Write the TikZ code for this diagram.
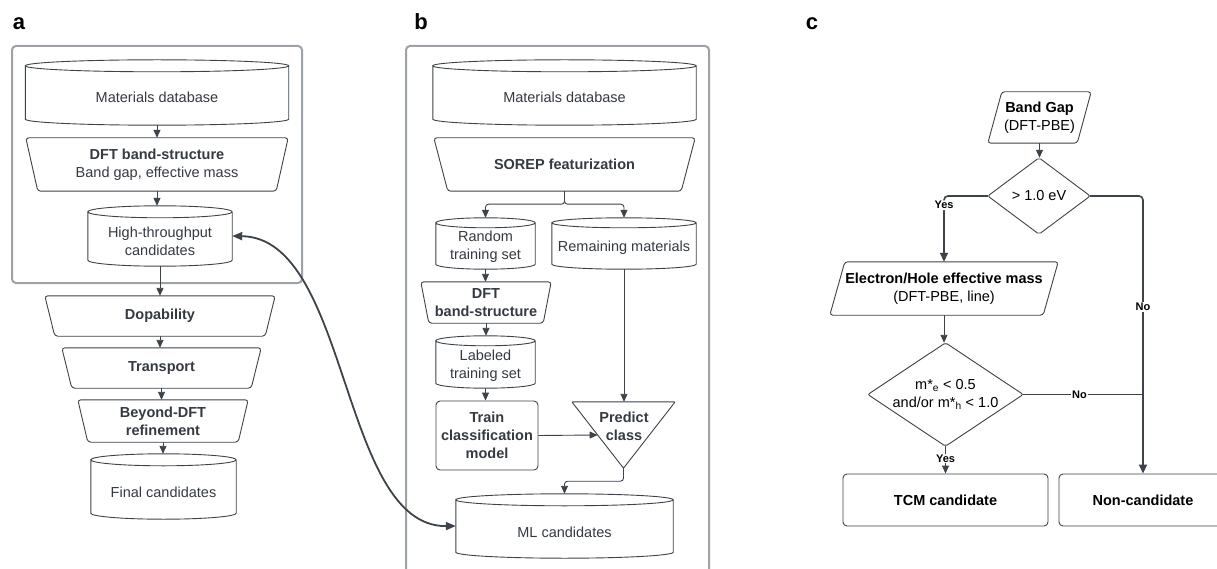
\documentclass[tikz,border=0pt]{standalone}
\usepackage{fontspec}
\setmainfont{Liberation Sans}
\usetikzlibrary{arrows.meta,calc}
\definecolor{ln}{HTML}{3D434B}
\definecolor{tx}{HTML}{353A42}
\definecolor{frm}{HTML}{9DA2A8}
\newcommand\fs{\fontsize{14.5}{17.8}\selectfont}
\newcommand\mycyl[2]{\draw[shp] let \p1=(#1.north west), \p2=(#1.south east) in (\x1,\y1-#2pt) -- (\x1,\y2+#2pt) arc[start angle=180,end angle=360,x radius={(\x2-\x1)/2},y radius=#2pt] -- (\x2,\y1-#2pt) arc[start angle=0,end angle=180,x radius={(\x2-\x1)/2},y radius=#2pt] arc[start angle=180,end angle=360,x radius={(\x2-\x1)/2},y radius=#2pt];}
\newcommand\mytrap[2]{\draw[shp,rounded corners=3] (#1.north west) -- (#1.north east) -- ([xshift=-#2]#1.south east) -- ([xshift=#2]#1.south west) -- cycle;}
\newcommand\mypara[2]{\draw[shp,rounded corners=3] ([xshift=#2]#1.north west) -- (#1.north east) -- ([xshift=-#2]#1.south east) -- (#1.south west) -- cycle;}
\newcommand\mydiam[1]{\draw[shp,rounded corners=2] (#1.north) -- (#1.east) -- (#1.south) -- (#1.west) -- cycle;}
\newcommand\mytri[1]{\draw[shp,rounded corners=1] (#1.north west) -- (#1.north east) -- (#1.south) -- cycle;}
\tikzset{
  shp/.style={draw=ln, line width=0.9},
  arr/.style={draw=ln, line width=0.9, -{Triangle[length=8pt,width=7pt]}},
  tarr/.style={draw=ln, line width=1.6, -{Triangle[length=9pt,width=8pt]}},
  bx/.style={inner sep=0, align=center, text=tx, font=\fs},
  framebox/.style={draw=frm, line width=2, rounded corners=4, inner sep=0},
  plabel/.style={anchor=base, font=\fontsize{22}{22}\selectfont\bfseries, text=black},
  yn/.style={font=\fontsize{11}{11}\selectfont\bfseries, fill=white, inner sep=1, text=black},
  rbox/.style={bx, draw=ln, line width=0.9, rounded corners=4}
}
\begin{document}
\begin{tikzpicture}[x=1pt,y=1pt]
\useasboundingbox (0,0) rectangle (1217,-569);
\clip (0,0) rectangle (1217,-569);
\fill[white] (0,0) rectangle (1217,-569);

% ---------- panel a ----------
\node[plabel] (la) at (19,-30) {a};
\node[framebox, minimum width=290, minimum height=237] (fa) at (157,-164.5) {};
\node[bx,minimum width=263,minimum height=65] (a1) at (157,-92.5) {};
\node[bx] (a1t) at (157,-97) {Materials database};
\node[bx,minimum width=262,minimum height=53] (a2) at (157,-164.5) {\textbf{DFT band-structure}\\Band gap, effective mass};
\node[bx,minimum width=144,minimum height=60] (a3) at (160,-236) {};
\node[bx] (a3t) at (160,-241) {High-throughput\\candidates};
\node[bx,minimum width=230,minimum height=40] (a4) at (160,-316) {\textbf{Dopability}};
\node[bx,minimum width=199,minimum height=40] (a5) at (161.5,-368) {\textbf{Transport}};
\node[bx,minimum width=170,minimum height=42] (a6) at (163,-421) {\textbf{Beyond-DFT}\\\textbf{refinement}};
\node[bx,minimum width=145,minimum height=65] (a7) at (163.5,-486.5) {};
\node[bx] (a7t) at (163.5,-492) {Final candidates};
\mycyl{a1}{6}
\mytrap{a2}{12}
\mycyl{a3}{6}
\mytrap{a4}{10}
\mytrap{a5}{10}
\mytrap{a6}{10}
\mycyl{a7}{6}
\draw[arr] (a1.south) -- (a1.south |- a2.north);
\draw[arr] (a2.south) -- (a2.south |- a3.north);
\draw[arr] (a3.south) -- (a3.south |- a4.north);
\draw[arr] (a4.south) -- (a4.south |- a5.north);
\draw[arr] (a5.south) -- (a5.south |- a6.north);
\draw[arr] (a6.south) -- (a6.south |- a7.north);

% ---------- panel b ----------
\node[plabel] (lb) at (421,-30) {b};
\node[framebox, minimum width=303, minimum height=560] (fb) at (557.5,-326) {};
\node[bx,minimum width=263,minimum height=65] (b1) at (564.5,-92.5) {};
\node[bx] (b1t) at (564.5,-97) {Materials database};
\node[bx,minimum width=261,minimum height=53] (b2) at (564.5,-164.5) {\textbf{SOREP featurization}};
\node[bx,minimum width=99,minimum height=51] (b3) at (485.5,-243.5) {};
\node[bx] (b3t) at (485.5,-247) {Random\\training set};
\node[bx,minimum width=144,minimum height=51] (b4) at (624,-243.5) {};
\node[bx] (b4t) at (624,-248) {Remaining materials};
\node[bx,minimum width=130,minimum height=41] (b5) at (486,-302.5) {\textbf{DFT}\\\textbf{band-structure}};
\node[bx,minimum width=99,minimum height=52] (b6) at (485.5,-362) {};
\node[bx] (b6t) at (485.5,-366) {Labeled\\training set};
\node[rbox,minimum width=102,minimum height=69] (b7) at (487,-435.5) {\textbf{Train}\\\textbf{classification}\\\textbf{model}};
\node[bx,minimum width=103,minimum height=66] (b8) at (623.5,-435) {};
\node[bx] (b8t) at (624,-426) {\textbf{Predict}\\\textbf{class}};
\node[bx,minimum width=217,minimum height=64] (b9) at (564.5,-526) {};
\node[bx] (b9t) at (564.5,-532) {ML candidates};
\mycyl{b1}{6}
\mytrap{b2}{14}
\mycyl{b3}{5}
\mycyl{b4}{5}
\mytrap{b5}{8}
\mycyl{b6}{5}
\mytri{b8}
\mycyl{b9}{6}
\draw[arr,rounded corners=3] (b2.south) -- ++(0,-13) -| (b3.north);
\draw[arr,rounded corners=3] (b2.south) -- ++(0,-13) -| (b4.north);
\draw[arr] (b3.south) -- (b3.south |- b5.north);
\draw[arr] (b5.south) -- (b5.south |- b6.north);
\draw[arr] (b6.south) -- (b6.south |- b7.north);
\draw[arr] (b7.east) -- ($(b8.north west)!0.5!(b8.south)$);
\draw[arr] (b4.south) -- (b4.south |- b8.north);
\draw[arr,rounded corners=3] (b8.south) -- ++(0,-13) -| (b9.north);

% cross-panel link
\draw[draw=ln, line width=1.8, {Triangle[length=10pt,width=8pt]}-{Triangle[length=10pt,width=8pt]}]
  (a3.east) .. controls (350,-238) and (340,-527) .. (b9.west);

% ---------- panel c ----------
\node[plabel] (lc) at (812,-30) {c};
\node[bx,text=black,minimum width=103,minimum height=51] (c1) at (1039.5,-117.5) {\textbf{Band Gap}\\(DFT-PBE)};
\node[bx,text=black,minimum width=102,minimum height=76] (c2) at (1039,-196) {> 1.0 eV};
\node[bx,text=black,minimum width=228,minimum height=53] (c3) at (944,-288.5) {\textbf{Electron/Hole effective mass}\\(DFT-PBE, line)};
\node[bx,text=black,minimum width=155,minimum height=103] (c4) at (945.5,-394.5) {m*\textsubscript{e} < 0.5\\and/or m*\textsubscript{h} < 1.0};
\node[rbox,text=black,minimum width=205,minimum height=52] (c5) at (945.5,-500) {\textbf{TCM candidate}};
\node[rbox,text=black,minimum width=168,minimum height=52] (c6) at (1143,-500) {\textbf{Non-candidate}};
\mypara{c1}{14}
\mydiam{c2}
\mypara{c3}{15}
\mydiam{c4}
\draw[arr] (c1.south) -- (c1.south |- c2.north);
\draw[tarr,rounded corners=4] (c2.west) -| node[yn,pos=0.57] (y1) {Yes} (c3.north);
\draw[tarr,rounded corners=4] (c2.east) -| node[yn,pos=0.7] (n1) {No} (c6.north);
\draw[arr] (c3.south) -- (c3.south |- c4.north);
\draw[draw=ln, line width=0.9] (c4.east) -- node[yn,pos=0.47] (n2) {No} (c4.east -| c6.north);
\draw[arr] (c4.south) -- node[yn,pos=0.45] (y2) {Yes} (c4.south |- c5.north);
\end{tikzpicture}
\end{document}
